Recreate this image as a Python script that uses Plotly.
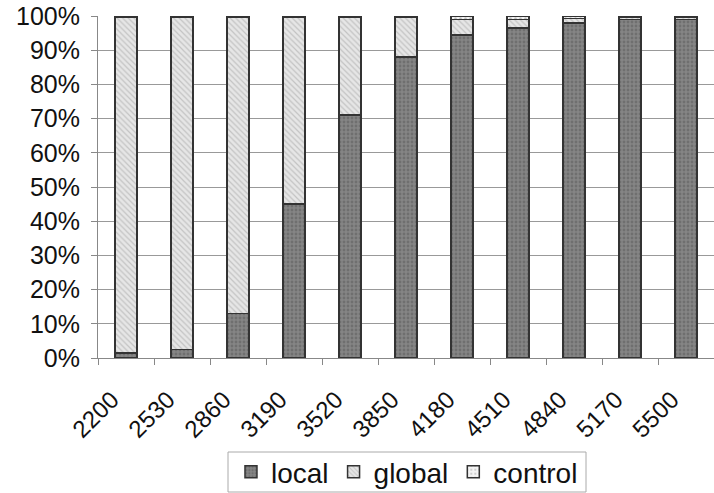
import plotly.graph_objects as go

categories = ["2200", "2530", "2860", "3190", "3520", "3850", "4180", "4510", "4840", "5170", "5500"]
local_vals = [1.5, 2.5, 13, 45, 71, 88, 94.5, 96.5, 98, 99, 99]
global_vals = [98, 97, 86.5, 54.5, 28.5, 11.5, 4.5, 2.5, 1.3, 0.6, 0.5]
control_vals = [0.5, 0.5, 0.5, 0.5, 0.5, 0.5, 1.0, 1.0, 0.7, 0.4, 0.5]
y_ticks = [0, 10, 20, 30, 40, 50, 60, 70, 80, 90, 100]
y_tick_text = [f"{v}%" for v in y_ticks]
x_tick_text = [c + "\u00a0\u00a0\u00a0" for c in categories]

font = "Liberation Sans, Arial, sans-serif"
outline = dict(color="#333333", width=1.5)

fig = go.Figure()
fig.add_trace(go.Bar(
    x=categories, y=local_vals, name="local",
    marker=dict(color="#858585", line=outline,
                pattern=dict(shape=".", fgcolor="#5a5a5a", bgcolor="#858585", size=4, solidity=0.4)),
))
fig.add_trace(go.Bar(
    x=categories, y=global_vals, name="global",
    marker=dict(color="#e6e6e6", line=outline,
                pattern=dict(shape="\\", fgcolor="#a0a0a0", bgcolor="#e6e6e6", size=4, solidity=0.3)),
))
fig.add_trace(go.Bar(
    x=categories, y=control_vals, name="control",
    marker=dict(color="#f4f4f4", line=outline,
                pattern=dict(shape=".", fgcolor="#909090", bgcolor="#f4f4f4", size=5, solidity=0.2)),
))

# legend frame (drawn as a shape so its height matches the reference)
fig.add_shape(type="rect", xref="paper", yref="paper",
              x0=(228 - 98) / 616, x1=(586 - 98) / 616,
              y0=(358 - 492) / 342, y1=(358 - 452) / 342,
              line=dict(color="#aaaaaa", width=1), fillcolor="rgba(0,0,0,0)", layer="above")

fig.update_layout(
    width=714, height=493,
    barmode="stack", bargap=0.6,
    margin=dict(l=98, r=0, t=16, b=135),
    paper_bgcolor="white", plot_bgcolor="white",
    font=dict(family=font, color="#111111", size=24),
    showlegend=True,
    legend=dict(
        orientation="h", xref="container", yref="container",
        x=0.570, xanchor="center", y=0.0426, yanchor="middle",
        bgcolor="rgba(0,0,0,0)", borderwidth=0,
        font=dict(size=28, family=font), itemwidth=30,
        traceorder="normal", tracegroupgap=0,
    ),
)
fig.update_yaxes(
    range=[0, 100], tickvals=y_ticks, ticktext=y_tick_text,
    showgrid=True, gridcolor="#999999", gridwidth=1,
    showline=True, linecolor="#888888", linewidth=1,
    ticks="outside", ticklen=6, tickcolor="#888888",
    tickfont=dict(size=25, family=font), zeroline=False,
    automargin=False, ticklabelstandoff=6,
)
fig.update_xaxes(
    type="category", tickangle=-45,
    tickvals=categories, ticktext=x_tick_text,
    showline=True, linecolor="#888888", linewidth=1,
    ticks="outside", ticklen=6, tickcolor="#888888", tickson="boundaries",
    tickfont=dict(size=24, family=font), showgrid=False,
    automargin=False, ticklabelstandoff=3,
)

fig.write_html("out.html", post_script="document.body.style.margin='0';",
               config={"displayModeBar": False})
